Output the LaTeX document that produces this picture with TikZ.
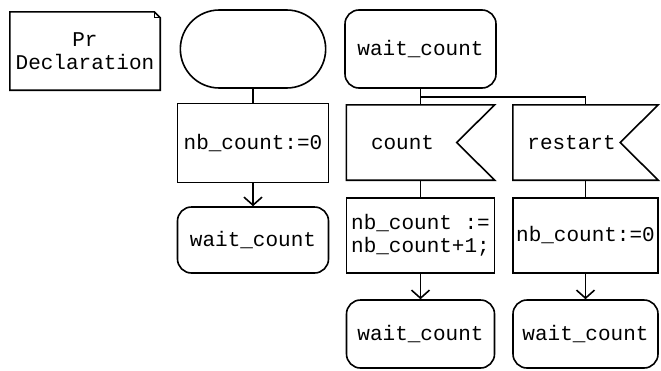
\documentclass[tikz,border=0pt]{standalone}
\usepackage{fontspec}
\setmonofont{Liberation Mono}
\usetikzlibrary{shapes.misc,arrows.meta,calc}
\begin{document}
\begin{tikzpicture}[x=1pt,y=-1pt,
  lw/.style={line width=1.6pt},
  txt/.style={font=\ttfamily\fontsize{21}{23}\selectfont, align=center, inner sep=0pt},
  box/.style={txt, lw, draw, rectangle, minimum width=#1, minimum height=75pt},
  statebox/.style={txt, lw, draw, rectangle, rounded corners=14pt, minimum width=#1, minimum height=68pt},
  startbox/.style={lw, draw, rounded rectangle, minimum width=152pt, minimum height=78pt},
  inbox/.style={txt, rectangle, minimum width=#1, minimum height=75pt},
  arr/.style={lw, -{Straight Barb[length=8pt,width=18pt,line width=1.6pt]}},
  conn/.style={lw}
]
\useasboundingbox (0,0) rectangle (661,370);

% declaration text symbol
\node[txt, minimum width=150pt, minimum height=78pt] (decl) at (85,51) {Pr\\Declaration};
\draw[lw] (decl.north west) -- ($(decl.north east)+(-6,0)$) -- ($(decl.north east)+(0,6)$) -- (decl.south east) -- (decl.south west) -- cycle;
\draw[line width=1pt] ($(decl.north east)+(-6,0)$) -- ($(decl.north east)+(-6,6)$) -- ($(decl.north east)+(0,6)$);

% left column
\node[startbox] (start) at (253,49) {};
\node[box=151pt, minimum height=79pt] (t1) at (253,143) {nb\_count:=0};
\node[statebox=151pt, minimum height=66pt] (w1) at (253,240) {wait\_count};

% middle/right top
\node[statebox=151pt, minimum height=78pt] (st) at (420.5,49) {wait\_count};

\node[inbox=148pt] (in1) at (420.5,142.5) {\hspace*{-36pt}count};
\node[inbox=145pt] (in2) at (585.5,142.5) {\hspace*{-28pt}restart};
\foreach \n in {in1,in2}{
  \draw[lw] (\n.north west) -- (\n.north east) -- ($(\n.east)+(-38,0)$) -- (\n.south east) -- (\n.south west) -- cycle;
}

\node[box=148pt] (t2) at (420.5,235.5) {nb\_count :=\\nb\_count+1;};
\node[box=145pt] (t3) at (585.5,235.5) {nb\_count:=0};

\node[statebox=148pt] (w2) at (420.5,334) {wait\_count};
\node[statebox=145pt] (w3) at (585.5,334) {wait\_count};

% connectors
\coordinate (j) at ($(st.south)+(0,8)$);
\draw[conn] (start.south) -- (t1.north);
\draw[arr] (t1.south) -- (w1.north);
\draw[conn] (st.south) -- (in1.north);
\draw[conn] (j) -| (in2.north);
\draw[conn] (in1.south) -- (t2.north);
\draw[conn] (in2.south) -- (t3.north);
\draw[arr] (t2.south) -- (w2.north);
\draw[arr] (t3.south) -- (w3.north);
\end{tikzpicture}
\end{document}
